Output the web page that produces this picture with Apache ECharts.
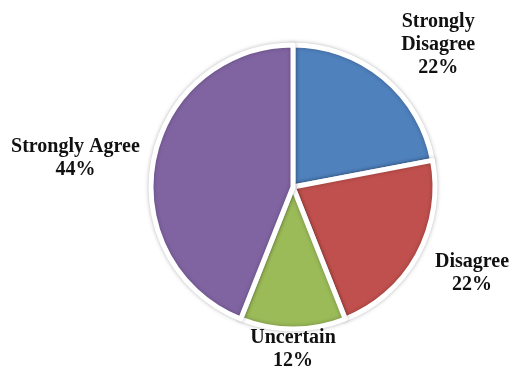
<!DOCTYPE html>
<html>
<head>
<meta charset="utf-8">
<script src="https://cdn.jsdelivr.net/npm/echarts@6/dist/echarts.min.js"></script>
<style>
  html, body { margin: 0; padding: 0; background: #ffffff; }
  #chart { width: 515px; height: 367px; }
</style>
</head>
<body>
<div id="chart"></div>
<script>
// Survey responses, clockwise from 12 o'clock
const categories = ['Strongly\nDisagree', 'Disagree', 'Uncertain', 'Strongly Agree'];
const percents = [22, 22, 12, 44];
const colors = ['#4F81BD', '#C0504D', '#9BBB59', '#8064A2'];

const CENTER = [293, 187];
const RADIUS = 142;
const GAP = 12;
// small per-label nudges after the radial placement
const LABEL_NUDGE = [[15, 15], [6, -9], [0, -15], [0, 13]];

// mid angle of each slice (degrees, clockwise from top)
const total = percents.reduce((a, b) => a + b, 0);
const midAngles = [];
let acc = 0;
percents.forEach(v => { midAngles.push((acc + v / 2) / total * 360); acc += v; });

const chart = echarts.init(document.getElementById('chart'));
chart.setOption({
  animation: false,
  series: [{
    type: 'pie',
    center: CENTER,
    radius: RADIUS,
    startAngle: 90,
    clockwise: true,
    data: categories.map((c, i) => ({
      name: c,
      value: percents[i],
      itemStyle: { color: colors[i] }
    })),
    itemStyle: {
      borderColor: '#ffffff',
      borderWidth: 5,
      shadowBlur: 4,
      shadowColor: 'rgba(0,0,0,0.25)'
    },
    label: {
      show: true,
      position: 'outside',
      formatter: p => p.name + '\n' + p.value + '%',
      fontFamily: '"Liberation Serif", "Times New Roman", serif',
      fontWeight: 'bold',
      fontSize: 20,
      lineHeight: 23,
      color: '#111111',
      align: 'center',
      overflow: 'none'
    },
    labelLine: { show: false },
    labelLayout: function (p) {
      // push each label radially out until its box clears the rim
      const i = p.dataIndex;
      const th = midAngles[i] * Math.PI / 180;
      const s = Math.sin(th), c = Math.cos(th);
      const w = p.labelRect.width, h = p.labelRect.height;
      const support = Math.abs(s) * w / 2 + Math.abs(c) * h / 2;
      const d = RADIUS + GAP + support;
      return {
        x: CENTER[0] + d * s + LABEL_NUDGE[i][0],
        y: CENTER[1] - d * c + LABEL_NUDGE[i][1],
        align: 'center',
        verticalAlign: 'middle'
      };
    }
  }]
});
</script>
</body>
</html>
